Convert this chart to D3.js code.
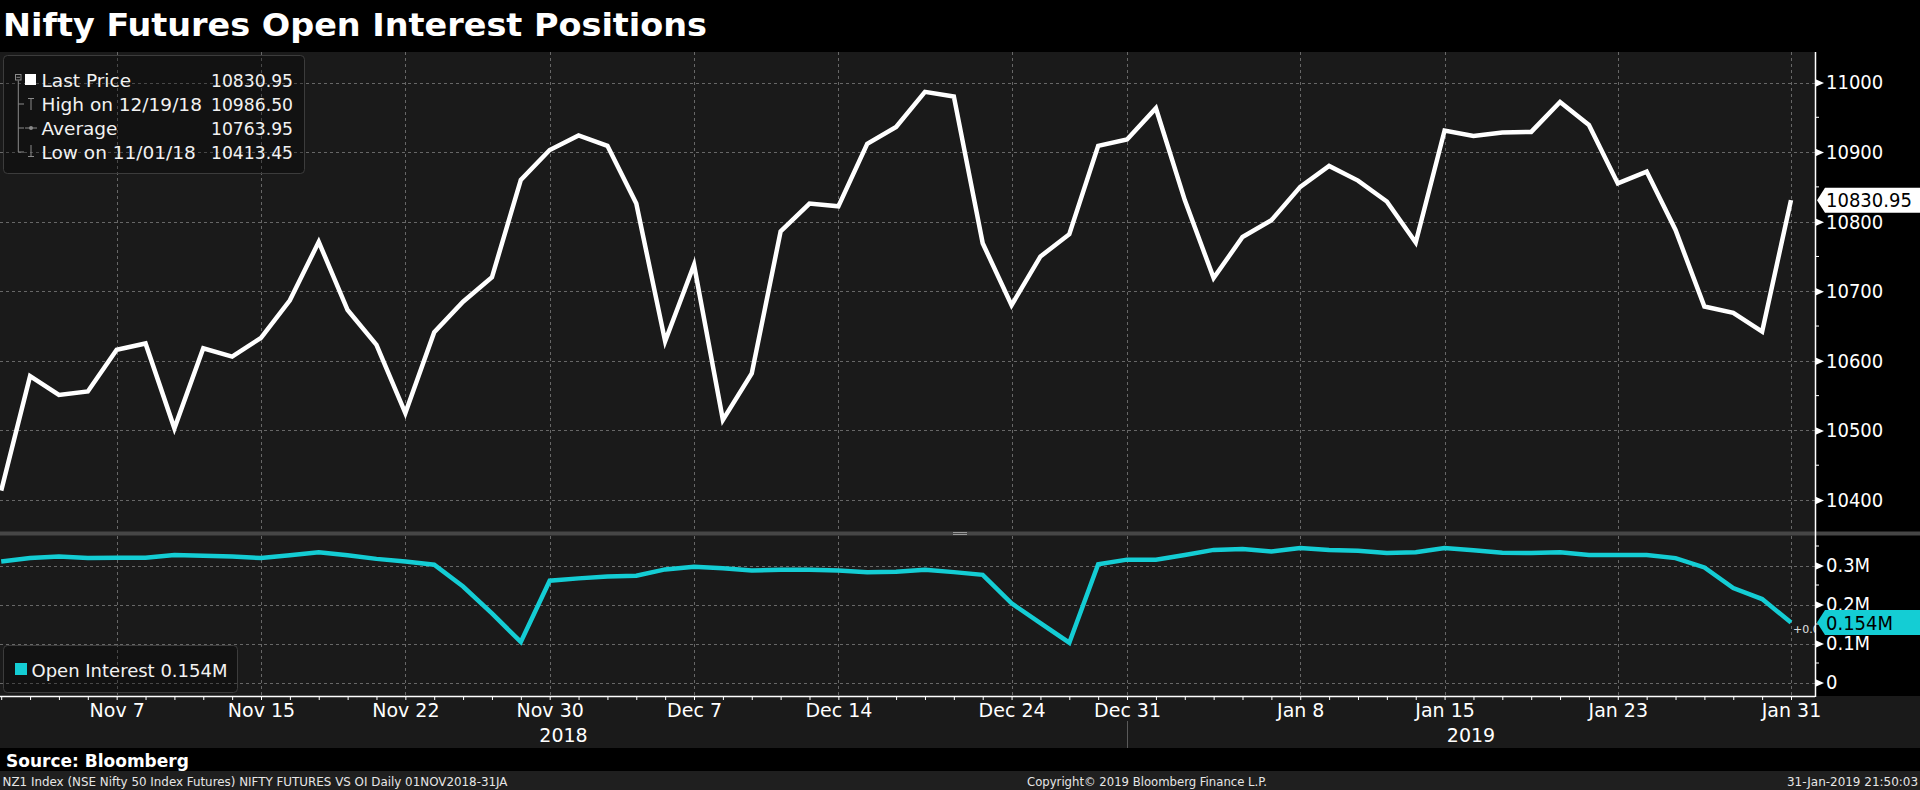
<!DOCTYPE html>
<html>
<head>
<meta charset="utf-8">
<script src="https://cdn.jsdelivr.net/npm/d3@7"></script>
<style>
  html, body { margin: 0; padding: 0; background: #000; }
  svg { display: block; }
</style>
</head>
<body>
<svg id="chart" width="1920" height="790"></svg>
<script>
// ---------------- DATA ----------------
const dates = ["2018-11-01","2018-11-02","2018-11-05","2018-11-06","2018-11-07","2018-11-09","2018-11-12","2018-11-13","2018-11-14","2018-11-15","2018-11-16","2018-11-19","2018-11-20","2018-11-21","2018-11-22","2018-11-26","2018-11-27","2018-11-28","2018-11-29","2018-11-30","2018-12-03","2018-12-04","2018-12-05","2018-12-06","2018-12-07","2018-12-10","2018-12-11","2018-12-12","2018-12-13","2018-12-14","2018-12-17","2018-12-18","2018-12-19","2018-12-20","2018-12-21","2018-12-24","2018-12-26","2018-12-27","2018-12-28","2018-12-31","2019-01-01","2019-01-02","2019-01-03","2019-01-04","2019-01-07","2019-01-08","2019-01-09","2019-01-10","2019-01-11","2019-01-14","2019-01-15","2019-01-16","2019-01-17","2019-01-18","2019-01-21","2019-01-22","2019-01-23","2019-01-24","2019-01-25","2019-01-28","2019-01-29","2019-01-30","2019-01-31"];

const lastPrice = [10413.45,10578,10551,10556,10616,10625,10503,10618,10606,10633,10687,10771,10673,10623,10525,10641,10685,10720,10860,10903,10924,10909,10826,10628,10738,10515,10582,10786,10826,10822,10912,10936,10986.5,10980,10769,10680,10750,10782,10909,10918,10963,10831,10719,10778,10802,10850,10880,10859,10829,10770,10931,10923,10928,10929,10972,10939,10855,10872,10788,10678,10669,10642,10830.95];

// open interest, millions of contracts
const openInterest = [0.310,0.319,0.323,0.319,0.320,0.320,0.327,0.325,0.323,0.319,0.326,0.334,0.326,0.317,0.310,0.302,0.246,0.177,0.104,0.261,0.267,0.272,0.274,0.290,0.297,0.293,0.287,0.289,0.289,0.287,0.283,0.284,0.289,0.283,0.276,0.203,0.152,0.102,0.303,0.315,0.315,0.327,0.340,0.342,0.336,0.345,0.340,0.338,0.332,0.334,0.345,0.339,0.333,0.332,0.334,0.327,0.327,0.327,0.319,0.295,0.242,0.214,0.154];

const xTickDates  = ["2018-11-07","2018-11-15","2018-11-22","2018-11-30","2018-12-07","2018-12-14","2018-12-24","2018-12-31","2019-01-08","2019-01-15","2019-01-23","2019-01-31"];
const xTickLabels = ["Nov 7","Nov 15","Nov 22","Nov 30","Dec 7","Dec 14","Dec 24","Dec 31","Jan 8","Jan 15","Jan 23","Jan 31"];
const yearLabels  = ["2018","2019"];
const yearStart   = "2018-12-31";

const priceTicks      = [10400,10500,10600,10700,10800,10900,11000];
const priceMinorTicks = [10450,10550,10650,10750,10850,10950];
const oiTicks         = [0,0.1,0.2,0.3];
const oiTickLabels    = ["0","0.1M","0.2M","0.3M"];
const oiMinorTicks    = [0.05,0.15,0.25,0.35];

const legendRows = [
  {label:"Last Price",       value:"10830.95"},
  {label:"High on 12/19/18", value:"10986.50"},
  {label:"Average",          value:"10763.95"},
  {label:"Low on 11/01/18",  value:"10413.45"}
];
const titleText = "Nifty Futures Open Interest Positions";
const oiLegend = "Open Interest 0.154M";
const lastOILabel = "0.154M";
const lastPriceLabel = "10830.95";

// ---------------- LAYOUT ----------------
const W = 1920, H = 790;
const AX = 1815;             // right axis x
const top1 = 52, bot1 = 531.5;   // upper panel
const top2 = 535.5, bot2 = 696;  // lower panel
const CYAN = "#14cdd4";
const GRID = "#676767";
const COND = "'DejaVu Sans Condensed', 'DejaVu Sans', sans-serif";
const SANS = "'DejaVu Sans', sans-serif";

const svg = d3.select("#chart");

// backgrounds
svg.append("rect").attr("width",W).attr("height",H).attr("fill","#1a1a1a");
svg.append("rect").attr("x",0).attr("y",0).attr("width",W).attr("height",top1).attr("fill","#000");
svg.append("rect").attr("x",AX).attr("y",top1).attr("width",W-AX).attr("height",bot2-top1).attr("fill","#000");
svg.append("rect").attr("x",0).attr("y",748).attr("width",W).attr("height",23).attr("fill","#000");
svg.append("rect").attr("x",0).attr("y",771).attr("width",W).attr("height",19).attr("fill","#1f1f1f");

// scales
const x  = d3.scalePoint().domain(dates).range([1.2, 1791]);
const yP = d3.scaleLinear().domain([10400, 11000]).range([500, 82.5]);
const yO = d3.scaleLinear().domain([0, 0.3]).range([682.5, 565.5]);

// clip paths
const defs = svg.append("defs");
defs.append("clipPath").attr("id","clipTop").append("rect")
  .attr("x",0).attr("y",top1).attr("width",AX).attr("height",bot1-top1);
defs.append("clipPath").attr("id","clipBot").append("rect")
  .attr("x",0).attr("y",top2).attr("width",AX).attr("height",bot2-top2);
defs.append("clipPath").attr("id","clipLbl").append("rect")
  .attr("x",AX).attr("y",top2).attr("width",W-AX).attr("height",bot2-top2+20);

// ---------------- GRID ----------------
const grid = svg.append("g").attr("stroke",GRID).attr("stroke-width",1).attr("stroke-dasharray","3,3").attr("shape-rendering","crispEdges");
grid.selectAll("line.hp").data(priceTicks).join("line").attr("class","hp")
  .attr("x1",0).attr("x2",AX).attr("y1",d=>Math.round(yP(d))+0.5).attr("y2",d=>Math.round(yP(d))+0.5);
grid.selectAll("line.ho").data(oiTicks).join("line").attr("class","ho")
  .attr("x1",0).attr("x2",AX).attr("y1",d=>Math.round(yO(d))+0.5).attr("y2",d=>Math.round(yO(d))+0.5);
grid.selectAll("line.vt").data(xTickDates).join("line").attr("class","vt")
  .attr("x1",d=>Math.round(x(d))+0.5).attr("x2",d=>Math.round(x(d))+0.5).attr("y1",top1).attr("y2",bot1);
grid.selectAll("line.vb").data(xTickDates).join("line").attr("class","vb")
  .attr("x1",d=>Math.round(x(d))+0.5).attr("x2",d=>Math.round(x(d))+0.5).attr("y1",top2).attr("y2",bot2);

// ---------------- LEGEND BOXES (semi transparent, grid shows through) ----------------
svg.append("rect").attr("x",3.5).attr("y",55.5).attr("width",301).attr("height",118).attr("rx",4)
  .attr("fill","#000").attr("fill-opacity",0.3).attr("stroke","#3c3c3c").attr("stroke-width",1);
svg.append("rect").attr("x",3.5).attr("y",645.5).attr("width",234).attr("height",47).attr("rx",4)
  .attr("fill","#000").attr("fill-opacity",0.3).attr("stroke","#3c3c3c").attr("stroke-width",1);

// ---------------- SERIES ----------------
const priceLine = d3.line().x((d,i)=>x(dates[i])).y(d=>yP(d));
svg.append("path").attr("clip-path","url(#clipTop)")
  .datum(lastPrice).attr("d",priceLine)
  .attr("fill","none").attr("stroke","#fff").attr("stroke-width",4.5).attr("stroke-linejoin","miter");

const oiLine = d3.line().x((d,i)=>x(dates[i])).y(d=>yO(d));
svg.append("path").attr("clip-path","url(#clipBot)")
  .datum(openInterest).attr("d",oiLine)
  .attr("fill","none").attr("stroke",CYAN).attr("stroke-width",4.5).attr("stroke-linejoin","miter");

svg.append("text").attr("clip-path","url(#clipBot)")
  .attr("x",x(dates[dates.length-1])+2).attr("y",yO(openInterest[openInterest.length-1])+11)
  .attr("fill","#e0e0e0").style("font","11px " + SANS).text("+0.0");

// ---------------- LEGEND CONTENT ----------------
const leg = svg.append("g");
const rowY = [80, 104, 128, 152];
leg.append("rect").attr("x",15.5).attr("y",74.5).attr("width",5.5).attr("height",5.5).attr("fill","none").attr("stroke","#8a8a8a");
leg.append("line").attr("x1",16.5).attr("x2",20).attr("y1",77.3).attr("y2",77.3).attr("stroke","#8a8a8a");
leg.append("line").attr("x1",18.3).attr("x2",18.3).attr("y1",80.5).attr("y2",152).attr("stroke","#8a8a8a");
rowY.slice(1).forEach(y=>{
  leg.append("line").attr("x1",18.3).attr("x2",24).attr("y1",y).attr("y2",y).attr("stroke","#8a8a8a");
});
leg.append("rect").attr("x",25).attr("y",74).attr("width",11).attr("height",11).attr("fill","#fff");
leg.append("path").attr("d","M28,98.5H34M31,98.5V110").attr("stroke","#8a8a8a").attr("fill","none");
leg.append("path").attr("d","M25,128H37").attr("stroke","#8a8a8a").attr("fill","none");
leg.append("circle").attr("cx",31).attr("cy",128).attr("r",2).attr("fill","#8a8a8a");
leg.append("path").attr("d","M31,145V156.5M28,156.5H34").attr("stroke","#8a8a8a").attr("fill","none");

leg.selectAll("text.ll").data(legendRows).join("text").attr("class","ll")
  .attr("x",41.5).attr("y",(d,i)=>rowY[i]+6.5).attr("fill","#f2f2f2")
  .style("font","18.5px " + SANS).text(d=>d.label);
leg.selectAll("text.lv").data(legendRows).join("text").attr("class","lv")
  .attr("x",293).attr("y",(d,i)=>rowY[i]+6.5).attr("text-anchor","end").attr("fill","#f2f2f2")
  .attr("textLength",82).attr("lengthAdjust","spacingAndGlyphs")
  .style("font","18.5px " + SANS).text(d=>d.value);

svg.append("rect").attr("x",15).attr("y",663).attr("width",12).attr("height",12).attr("fill",CYAN);
svg.append("text").attr("x",31.5).attr("y",676.5).attr("fill","#f2f2f2")
  .style("font","18px " + SANS).text(oiLegend);

// ---------------- SEPARATOR ----------------
svg.append("rect").attr("x",0).attr("y",bot1).attr("width",W).attr("height",top2-bot1).attr("fill","#464646");
svg.append("line").attr("x1",953).attr("x2",967).attr("y1",532.5).attr("y2",532.5).attr("stroke","#9a9a9a");
svg.append("line").attr("x1",953).attr("x2",967).attr("y1",534.5).attr("y2",534.5).attr("stroke","#9a9a9a");

// ---------------- RIGHT AXES ----------------
svg.append("line").attr("x1",AX+0.5).attr("x2",AX+0.5).attr("y1",top1).attr("y2",bot2+1).attr("stroke","#fff").attr("stroke-width",1.5);

const gYP = svg.append("g").attr("transform",`translate(${AX},0)`)
  .call(d3.axisRight(yP).tickValues(priceTicks).tickSize(0).tickPadding(11).tickFormat(d3.format("d")));
gYP.select(".domain").remove();
gYP.selectAll(".tick text").attr("fill","#fff").style("font","20px " + COND);
gYP.selectAll(".tick").append("path").attr("d","M0,-4L9,0L0,4Z").attr("fill","#fff");
svg.append("g").selectAll("line").data(priceMinorTicks).join("line")
  .attr("x1",AX).attr("x2",AX+4).attr("y1",d=>yP(d)).attr("y2",d=>yP(d)).attr("stroke","#fff");

const gYO = svg.append("g").attr("transform",`translate(${AX},0)`)
  .call(d3.axisRight(yO).tickValues(oiTicks).tickSize(0).tickPadding(11).tickFormat((d,i)=>oiTickLabels[i]));
gYO.select(".domain").remove();
gYO.selectAll(".tick text").attr("fill","#fff").style("font","20px " + COND);
gYO.selectAll(".tick").append("path").attr("d","M0,-4L9,0L0,4Z").attr("fill","#fff");
svg.append("g").selectAll("line").data(oiMinorTicks).join("line")
  .attr("x1",AX).attr("x2",AX+4).attr("y1",d=>yO(d)).attr("y2",d=>yO(d)).attr("stroke","#fff");

// last value tags
function tag(yc, fill, label) {
  const g = svg.append("g");
  g.append("path").attr("d",`M${AX+2},${yc}L${AX+10},${yc-12.5}H${W}V${yc+12.5}H${AX+10}Z`).attr("fill",fill);
  g.append("text").attr("x",AX+11).attr("y",yc).attr("dy","0.36em").attr("fill","#000")
    .style("font","20px " + COND).text(label);
}
tag(yP(lastPrice[lastPrice.length-1]), "#fff", lastPriceLabel);
tag(yO(openInterest[openInterest.length-1]), CYAN, lastOILabel);

// ---------------- X AXIS ----------------
const gXt = svg.append("g").attr("transform",`translate(0,${bot2})`)
  .call(d3.axisBottom(x).tickValues(dates).tickSize(4).tickFormat(""));
gXt.select(".domain").remove();
gXt.selectAll(".tick line").attr("stroke","#fff");
svg.append("line").attr("x1",0).attr("x2",AX).attr("y1",bot2+0.5).attr("y2",bot2+0.5).attr("stroke","#fff").attr("stroke-width",1.5);

const gXl = svg.append("g").attr("transform",`translate(0,${bot2})`)
  .call(d3.axisBottom(x).tickValues(xTickDates).tickSize(0).tickPadding(8).tickFormat((d,i)=>xTickLabels[i]));
gXl.select(".domain").remove();
gXl.selectAll(".tick text").attr("fill","#fff").style("font","19px " + SANS);

const xb = x(yearStart);
svg.append("line").attr("x1",Math.round(xb)+0.5).attr("x2",Math.round(xb)+0.5).attr("y1",721).attr("y2",748).attr("stroke","#5a5a5a");
svg.append("text").attr("x",xb/2).attr("y",742).attr("text-anchor","middle").attr("fill","#fff")
  .style("font","19px " + SANS).text(yearLabels[0]);
svg.append("text").attr("x",(xb+AX)/2).attr("y",742).attr("text-anchor","middle").attr("fill","#fff")
  .style("font","19px " + SANS).text(yearLabels[1]);

// ---------------- TITLE & FOOTER ----------------
svg.append("text").attr("x",3).attr("y",35.5).attr("fill","#fff")
  .attr("textLength",704).attr("lengthAdjust","spacingAndGlyphs")
  .style("font","bold 32px " + COND).text(titleText);

svg.append("text").attr("x",6).attr("y",766.5).attr("fill","#fff")
  .style("font","bold 17px " + SANS).text("Source: Bloomberg");

svg.append("text").attr("x",2.5).attr("y",786).attr("fill","#e6e6e6")
  .attr("textLength",505).attr("lengthAdjust","spacingAndGlyphs")
  .style("font","12px " + COND).text("NZ1 Index (NSE Nifty 50 Index Futures) NIFTY FUTURES VS OI  Daily 01NOV2018-31JA");
svg.append("text").attr("x",1027).attr("y",786).attr("fill","#e6e6e6")
  .attr("textLength",240).attr("lengthAdjust","spacingAndGlyphs")
  .style("font","12px " + COND).text("Copyright\u00A9 2019 Bloomberg Finance L.P.");
svg.append("text").attr("x",1787).attr("y",786).attr("fill","#e6e6e6")
  .attr("textLength",131).attr("lengthAdjust","spacingAndGlyphs")
  .style("font","12px " + COND).text("31-Jan-2019 21:50:03");
</script>
</body>
</html>
